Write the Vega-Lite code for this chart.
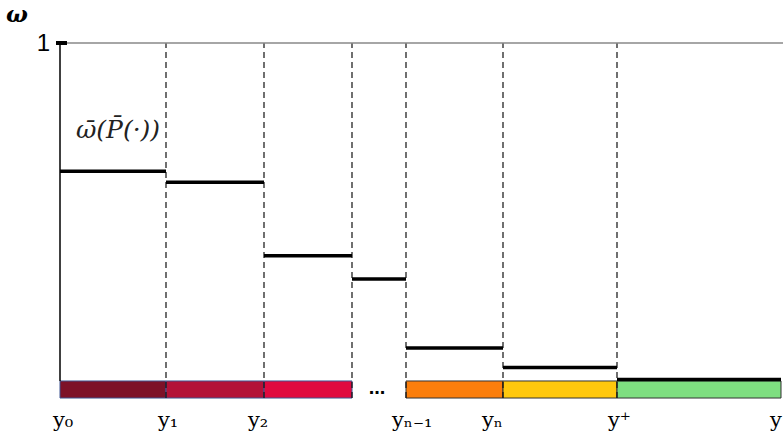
{
  "$schema": "https://vega.github.io/schema/vega-lite/v6.json",
  "width": 783,
  "height": 442,
  "autosize": "none",
  "padding": 0,
  "config": {"view": {"stroke": null}},
  "datasets": {
    "steps": [
      {"start": 60, "end": 166, "omega": 0.639, "band": "b1"},
      {"start": 166, "end": 264, "omega": 0.608, "band": "b2"},
      {"start": 264, "end": 352, "omega": 0.401, "band": "b3"},
      {"start": 352, "end": 406, "omega": 0.335, "band": "none"},
      {"start": 406, "end": 503, "omega": 0.141, "band": "b4"},
      {"start": 503, "end": 617, "omega": 0.086, "band": "b5"},
      {"start": 617, "end": 781, "omega": 0.052, "band": "b6"}
    ],
    "breaks": [
      {"pos": 166}, {"pos": 264}, {"pos": 352}, {"pos": 406}, {"pos": 503}, {"pos": 617}
    ],
    "xlabels": [
      {"pos": 53, "label": "y₀"},
      {"pos": 158, "label": "y₁"},
      {"pos": 248, "label": "y₂"},
      {"pos": 392, "label": "yₙ₋₁"},
      {"pos": 482, "label": "yₙ"},
      {"pos": 608, "label": "y⁺"},
      {"pos": 770, "label": "y"}
    ]
  },
  "layer": [
    {
      "data": {"name": "steps"},
      "transform": [{"filter": "datum.band != 'none'"}],
      "mark": {"type": "rect", "strokeWidth": 1},
      "encoding": {
        "x": {"field": "start", "type": "quantitative", "scale": {"domain": [0, 783], "nice": false, "zero": false}, "axis": null},
        "x2": {"field": "end"},
        "y": {"datum": 0, "type": "quantitative", "scale": {"domain": [-0.1239, 1.1212], "nice": false, "zero": false}, "axis": null},
        "y2": {"datum": 0.048},
        "fill": {"field": "band", "type": "nominal", "legend": null,
          "scale": {"domain": ["b1", "b2", "b3", "b4", "b5", "b6"], "range": ["#7D1128", "#B31238", "#E00A3F", "#FB7E0C", "#FFC80D", "#7EDE80"]}},
        "stroke": {"field": "band", "type": "nominal", "legend": null,
          "scale": {"domain": ["b1", "b2", "b3", "b4", "b5", "b6"], "range": ["#3F5591", "#3F5591", "#3F5591", "#333333", "#333333", "#333333"]}}
      }
    },
    {
      "data": {"name": "breaks"},
      "mark": {"type": "rule", "color": "#111111", "strokeWidth": 1.2, "strokeDash": [6, 4]},
      "encoding": {
        "x": {"field": "pos", "type": "quantitative"},
        "y": {"datum": 0, "type": "quantitative"},
        "y2": {"datum": 1}
      }
    },
    {
      "data": {"values": [{"a": 1}]},
      "mark": {"type": "rule", "color": "#888888", "strokeWidth": 1.5},
      "encoding": {
        "x": {"datum": 60, "type": "quantitative"},
        "x2": {"datum": 783},
        "y": {"datum": 1, "type": "quantitative"}
      }
    },
    {
      "data": {"values": [{"a": 1}]},
      "mark": {"type": "rule", "color": "#000000", "strokeWidth": 1.5},
      "encoding": {
        "x": {"datum": 60, "type": "quantitative"},
        "y": {"datum": 0.048, "type": "quantitative"},
        "y2": {"datum": 1}
      }
    },
    {
      "data": {"values": [{"a": 1}]},
      "mark": {"type": "rule", "color": "#000000", "strokeWidth": 4},
      "encoding": {
        "x": {"datum": 56, "type": "quantitative"},
        "x2": {"datum": 67},
        "y": {"datum": 1, "type": "quantitative"}
      }
    },
    {
      "data": {"name": "steps"},
      "mark": {"type": "rule", "color": "#000000", "strokeWidth": 3.5},
      "encoding": {
        "x": {"field": "start", "type": "quantitative"},
        "x2": {"field": "end"},
        "y": {"field": "omega", "type": "quantitative"}
      }
    },
    {
      "data": {"name": "xlabels"},
      "mark": {"type": "text", "align": "left", "baseline": "alphabetic", "font": "DejaVu Serif", "fontSize": 21, "color": "#000000"},
      "encoding": {
        "x": {"field": "pos", "type": "quantitative"},
        "y": {"datum": -0.0817, "type": "quantitative"},
        "text": {"field": "label"}
      }
    },
    {
      "data": {"values": [
        {"t": "ω", "px": 17, "py": 1.08}
      ]},
      "mark": {"type": "text", "align": "center", "baseline": "middle", "font": "DejaVu Serif", "fontStyle": "italic", "fontWeight": 600, "fontSize": 23, "color": "#000000"},
      "encoding": {
        "x": {"field": "px", "type": "quantitative"},
        "y": {"field": "py", "type": "quantitative"},
        "text": {"field": "t"}
      }
    },
    {
      "data": {"values": [{"t": "1", "px": 50, "py": 1}]},
      "mark": {"type": "text", "align": "right", "baseline": "middle", "font": "Liberation Sans", "fontSize": 24, "color": "#000000", "dy": 1},
      "encoding": {
        "x": {"field": "px", "type": "quantitative"},
        "y": {"field": "py", "type": "quantitative"},
        "text": {"field": "t"}
      }
    },
    {
      "data": {"values": [{"t": "ω̄(P̄(·))", "px": 118, "py": 0.755}]},
      "mark": {"type": "text", "align": "center", "baseline": "middle", "font": "DejaVu Serif", "fontStyle": "italic", "fontSize": 25, "color": "#222222"},
      "encoding": {
        "x": {"field": "px", "type": "quantitative"},
        "y": {"field": "py", "type": "quantitative"},
        "text": {"field": "t"}
      }
    },
    {
      "data": {"values": [{"t": "...", "px": 377, "py": 0.027}]},
      "mark": {"type": "text", "align": "center", "baseline": "middle", "font": "Liberation Sans", "fontWeight": "bold", "fontSize": 20, "color": "#000000"},
      "encoding": {
        "x": {"field": "px", "type": "quantitative"},
        "y": {"field": "py", "type": "quantitative"},
        "text": {"field": "t"}
      }
    }
  ]
}
